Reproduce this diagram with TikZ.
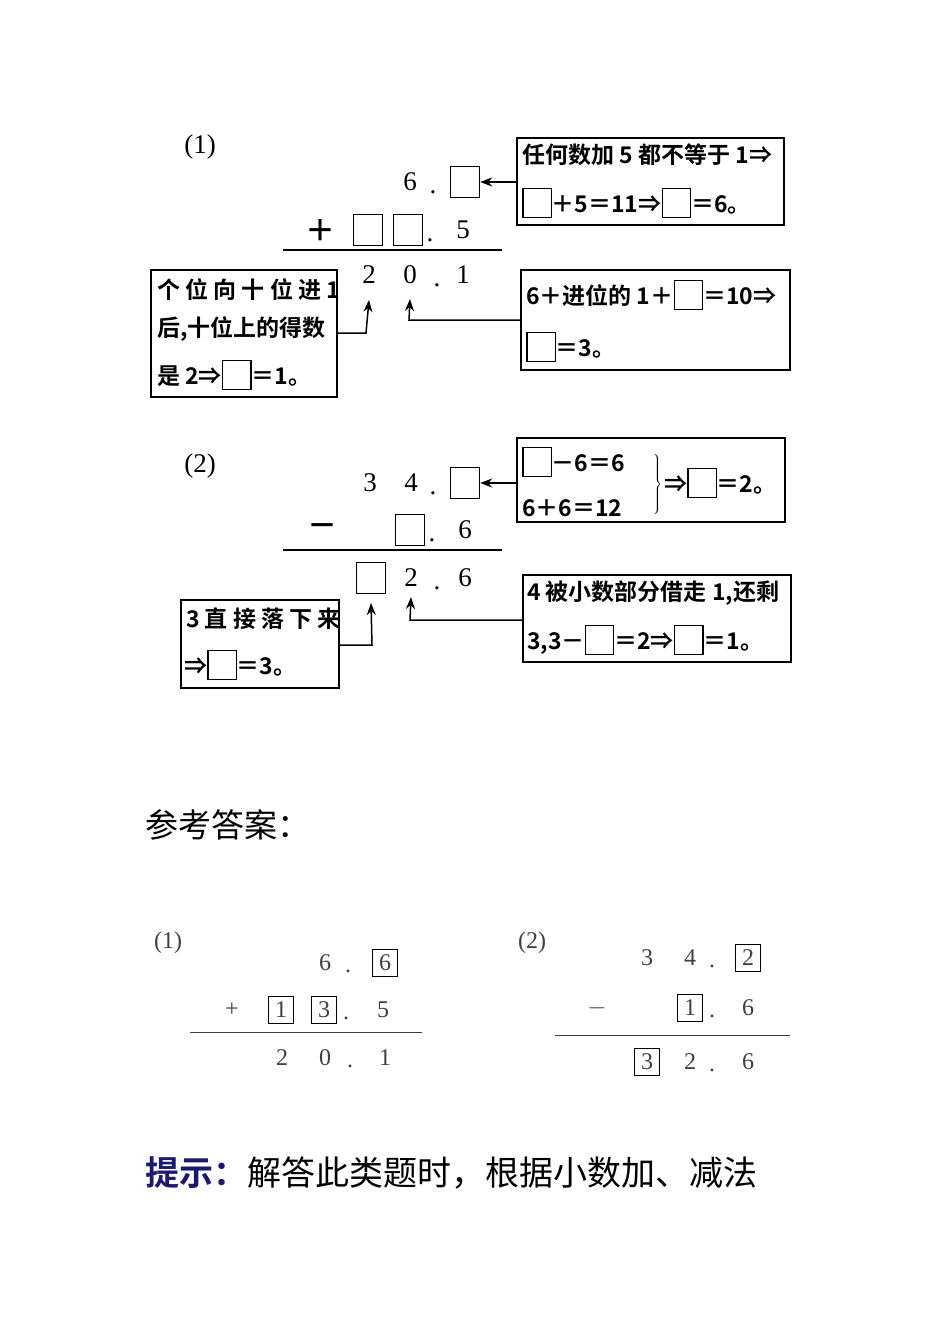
\documentclass[tikz,border=0pt]{standalone}
\usetikzlibrary{arrows.meta}
\usepackage{fontspec}
\setmainfont{Liberation Serif}
\newfontfamily\cjk{Noto Sans CJK SC}
\newfontfamily\cjkb{Noto Sans CJK SC Bold}
\newcommand\ebox{\raisebox{-5pt}{\setlength\fboxsep{0pt}\setlength\fboxrule{1.3pt}\fbox{\rule{0pt}{28pt}\hspace{27pt}}}}
\begin{document}
\begin{tikzpicture}[x=1pt,y=-1pt,
 frame/.style={draw,line width=1.8pt,inner sep=0pt},
 bt/.style={anchor=west,inner sep=0pt,font=\cjkb\fontsize{23}{26}\selectfont},
 dg/.style={inner sep=0pt,font=\fontsize{27}{29}\selectfont},
 sq/.style={draw,line width=1.4pt,minimum width=29pt,minimum height=31pt,inner sep=0pt},
 ar/.style={line width=1.5pt,-{Stealth[length=12pt,width=9pt]}},
 rl/.style={line width=1.8pt},
 an/.style={inner sep=0pt,font=\fontsize{24}{26}\selectfont,text=black!75},
 asq/.style={draw,line width=0.8pt,minimum width=25pt,minimum height=27pt,inner sep=0pt,font=\fontsize{24}{26}\selectfont,text=black!75}]
\useasboundingbox (0,0) rectangle (950,1344);
\fill[white] (0,0) rectangle (950,1344);
% (1)
\node[dg] (l1) at (200,147) {(1)};
\node[dg] (a1) at (410,182) {6};
\node[dg] (a2) at (433,192) {.};
\node[sq] (s1) at (465,182) {};
\node[dg,font=\cjkb\fontsize{30}{30}\selectfont] (p1) at (320,230) {＋};
\node[sq] (s2) at (368,230) {};
\node[sq] (s3) at (408,230) {};
\node[dg] (a3) at (430,240) {.};
\node[dg] (a4) at (463,230) {5};
\coordinate (r1a) at (283,250); \coordinate (r1b) at (502,250);
\draw[rl] (r1a) -- (r1b);
\node[dg] (b1) at (369,275) {2};
\node[dg] (b2) at (410,275) {0};
\node[dg] (b3) at (437,285) {.};
\node[dg] (b4) at (463,275) {1};
\node[frame,minimum width=186pt,minimum height=127pt] (A) at (244,333.5) {};
\node[bt] at (157,290) {个 位 向 十 位 进 1};
\node[bt] at (157,329) {后,十位上的得数};
\node[bt] at (157,375) {是 2⇒\ebox ＝1。};
\coordinate (ka) at (366,333);
\draw[ar] (A.east |- ka) -- (ka) -- (b1.south |- 0,300);
\node[frame,minimum width=267pt,minimum height=87pt] (B) at (650.5,181.5) {};
\node[bt] at (522,155) {任何数加 5 都不等于 1⇒};
\node[bt] at (522,203) {\ebox ＋5＝11⇒\ebox ＝6。};
\draw[ar] (B.west |- s1) -- (s1.east);
\node[frame,minimum width=269pt,minimum height=100pt] (C) at (655.5,320) {};
\node[bt] at (526,295) {6＋进位的 1＋\ebox ＝10⇒};
\node[bt] at (526,347) {\ebox ＝3。};
\coordinate (kc) at (409,320);
\draw[ar] (C.west |- kc) -- (kc) -- (b2.south |- 0,299);
% (2)
\node[dg] (l2) at (200,466) {(2)};
\node[dg] (c1) at (370,483) {3};
\node[dg] (c2) at (411,483) {4};
\node[dg] (c3) at (433,493) {.};
\node[sq] (s4) at (465,483) {};
\node[dg,font=\cjkb\fontsize{30}{30}\selectfont] (m1) at (322,530) {－};
\node[sq] (s5) at (410,530) {};
\node[dg] (c4) at (432,540) {.};
\node[dg] (c5) at (465,530) {6};
\coordinate (r2a) at (283,550); \coordinate (r2b) at (502,550);
\draw[rl] (r2a) -- (r2b);
\node[sq] (s6) at (371,578) {};
\node[dg] (d1) at (411,578) {2};
\node[dg] (d2) at (437,588) {.};
\node[dg] (d3) at (465,578) {6};
\node[frame,minimum width=158pt,minimum height=88pt] (D) at (260,644) {};
\node[bt] at (186,619) {3 直 接 落 下 来};
\node[bt] at (184,665) {⇒\ebox ＝3。};
\coordinate (kd) at (372,645);
\draw[ar] (D.east |- kd) -- (kd) -- (s6.south |- 0,603);
\node[frame,minimum width=268pt,minimum height=84pt] (E) at (651,480) {};
\node[bt] at (522,462) {\ebox －6＝6};
\node[bt] at (522,508) {6＋6＝12};
\node[inner sep=0pt,font=\fontsize{18}{18}\selectfont] (br) at (657,484) {$\left.\rule{0pt}{34pt}\right\}$};
\node[bt] at (664,483) {⇒\ebox ＝2。};
\draw[ar] (E.west |- s4) -- (s4.east);
\node[frame,minimum width=268pt,minimum height=87pt] (F) at (657,618.5) {};
\node[bt] at (527,593) {4 被小数部分借走 1,还剩};
\node[bt] at (527,640) {3,3－\ebox ＝2⇒\ebox ＝1。};
\coordinate (kf) at (410,620);
\draw[ar] (F.west |- kf) -- (kf) -- (d1.south |- 0,597);
% answer heading
\node[anchor=west,inner sep=0pt,font=\cjk\fontsize{33}{36}\selectfont] (h1) at (145,825) {参考答案：};
% answers (1)
\node[an] (e0) at (168,943) {(1)};
\node[an] (e1) at (325,963) {6};
\node[an] (e2) at (348,971) {.};
\node[asq] (e3) at (385,963) {6};
\node[an] (e4) at (232,1010) {+};
\node[asq] (e5) at (281,1010) {1};
\node[asq] (e6) at (324,1010) {3};
\node[an] (e7) at (346,1018) {.};
\node[an] (e8) at (383,1010) {5};
\coordinate (r3a) at (190,1032); \coordinate (r3b) at (422,1032);
\draw[line width=1pt,black!75] (r3a) -- (r3b);
\node[an] (f1) at (282,1058) {2};
\node[an] (f2) at (325,1058) {0};
\node[an] (f3) at (350,1066) {.};
\node[an] (f4) at (385,1058) {1};
% answers (2)
\node[an] (g0) at (532,943) {(2)};
\node[an] (g1) at (647,958) {3};
\node[an] (g2) at (690,958) {4};
\node[an] (g3) at (712,966) {.};
\node[asq] (g4) at (748,958) {2};
\node[an] (g5) at (597,1008) {$-$};
\node[asq] (g6) at (690,1008) {1};
\node[an] (g7) at (712,1016) {.};
\node[an] (g8) at (748,1008) {6};
\coordinate (r4a) at (555,1035); \coordinate (r4b) at (790,1035);
\draw[line width=1pt,black!75] (r4a) -- (r4b);
\node[asq] (h2) at (647,1062) {3};
\node[an] (h3) at (690,1062) {2};
\node[an] (h4) at (712,1070) {.};
\node[an] (h5) at (748,1062) {6};
% hint
\node[anchor=west,inner sep=0pt,font=\cjk\fontsize{34}{36}\selectfont] (tip) at (145,1173) {{\cjkb\color[HTML]{1A1A6E}提示：}解答此类题时，根据小数加、减法};
\end{tikzpicture}
\end{document}
